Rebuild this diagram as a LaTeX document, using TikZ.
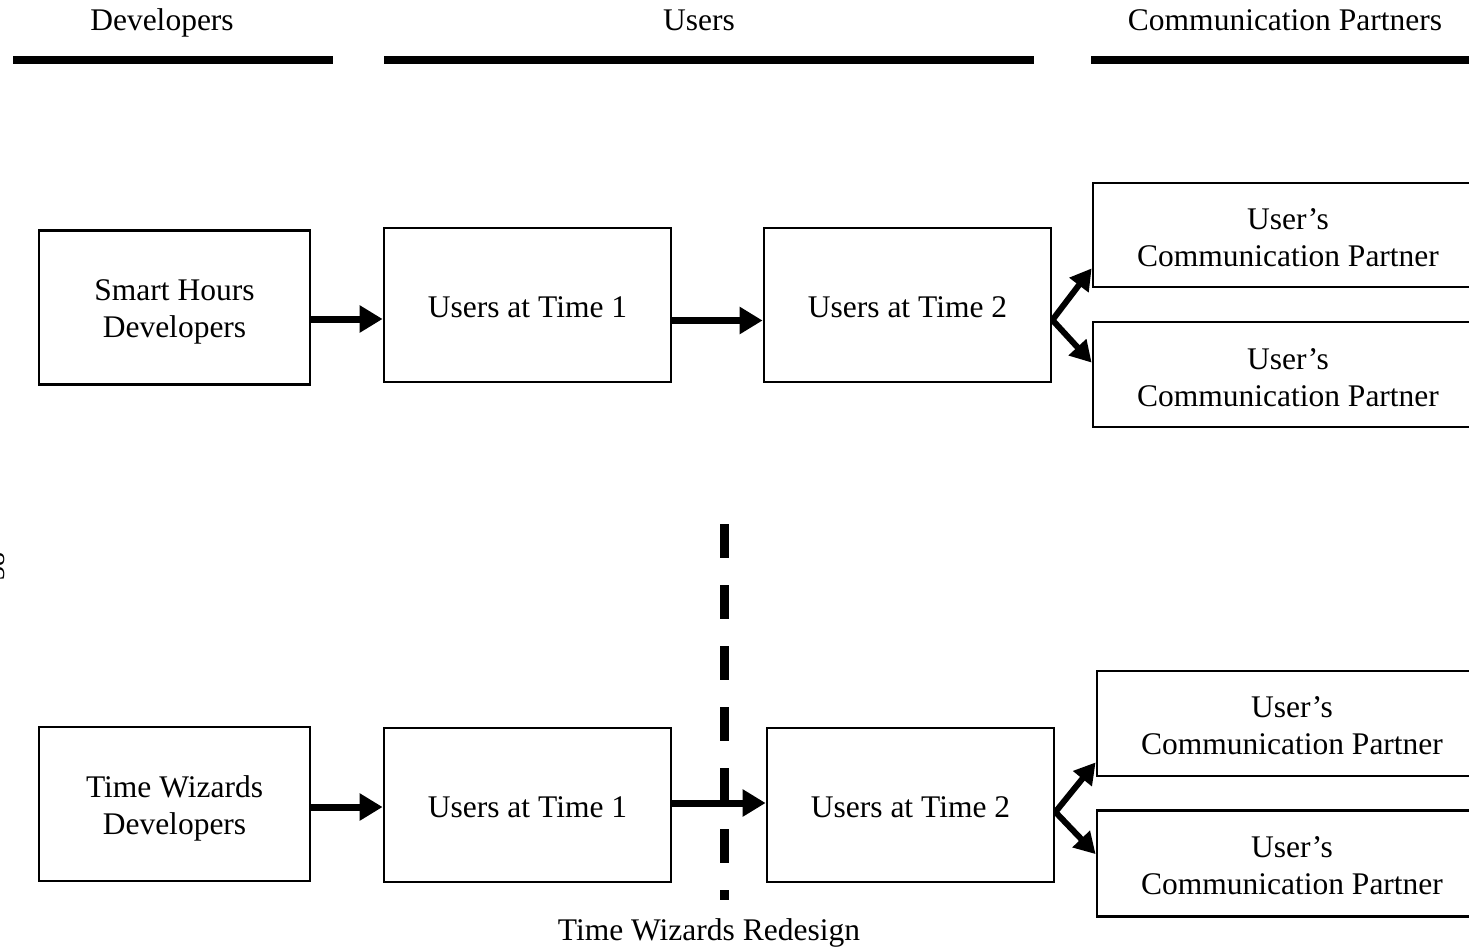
\documentclass[tikz,border=0pt]{standalone}
\usepackage{fontspec}
\setmainfont{Liberation Serif}
\usetikzlibrary{arrows.meta}
\begin{document}
\begin{tikzpicture}[x=1pt,y=-1pt,
  every node/.style={font=\fontsize{31.5}{37}\selectfont},
  box/.style={draw,line width=2.8pt,rectangle,inner sep=0pt},
  boxtext/.style={align=center,inner sep=0pt},
  devbox/.style={box,minimum width=271pt,minimum height=154pt},
  userbox/.style={box,minimum width=287pt,minimum height=154pt},
  cpbox/.style={box,minimum width=390pt,minimum height=104pt},
  hline/.style={line width=8pt},
  arr/.style={line width=7pt,-{Triangle[length=23pt,width=26pt]}},
  brarr/.style={line width=6pt,-{Triangle[length=21pt,width=23pt]}},
  dashline/.style={line width=9pt,dash pattern=on 34pt off 27pt}
]
\useasboundingbox (0,0) rectangle (1469,951);

% headers
\node[anchor=base] (hdev) at (162,30) {Developers};
\node[anchor=base] (husr) at (699,30) {Users};
\node[anchor=base] (hcp) at (1285,30) {Communication Partners};
\draw[hline] (13,60) -- (333,60);
\draw[hline] (384,60) -- (1034,60);
\draw[hline] (1091,60) -- (1475,60);

% page number (cut at the edge)
\node[rotate=90,inner sep=0pt,font=\fontsize{28}{30}\selectfont] (pg) at (-4.5,566) {38};

% row 1
\node[devbox] (sh) at (174.5,307.5) {};
\node[boxtext] (shT) at ([yshift=-4.5pt]sh.center) {Smart Hours\\Developers};
\node[userbox] (u1a) at (527.5,305) {};
\node[boxtext] (u1aT) at ([yshift=-2pt]u1a.center) {Users at Time 1};
\node[userbox] (u2a) at (907.5,305) {};
\node[boxtext] (u2aT) at ([yshift=-2pt]u2a.center) {Users at Time 2};
\node[cpbox] (cp1a) at (1288,235) {};
\node[boxtext] (cp1aT) at ([yshift=-3pt]cp1a.center) {User’s\\Communication Partner};
\node[cpbox,minimum height=105pt] (cp2a) at (1288,374.5) {};
\node[boxtext] (cp2aT) at ([yshift=-3pt]cp2a.center) {User’s\\Communication Partner};

\draw[arr] ([yshift=-11.5pt]sh.east) -- ([yshift=-14pt]u1a.west);
\draw[arr] ([yshift=-15.5pt]u1a.east) -- ([yshift=-15.5pt]u2a.west);
\draw[brarr] ([yshift=-15pt]u2a.east) -- ([yshift=20pt]cp1a.south west);
\draw[brarr] ([yshift=-15pt]u2a.east) -- ([yshift=-42pt]cp2a.north west);

% row 2
\node[devbox] (tw) at (174.5,804) {};
\node[boxtext] (twT) at ([yshift=-4.5pt]tw.center) {Time Wizards\\Developers};
\node[userbox] (u1b) at (527.5,805) {};
\node[boxtext] (u1bT) at ([yshift=-2pt]u1b.center) {Users at Time 1};
\node[userbox] (u2b) at (910.5,805) {};
\node[boxtext] (u2bT) at ([yshift=-2pt]u2b.center) {Users at Time 2};
\node[cpbox,minimum height=105pt] (cp1b) at (1292,723.5) {};
\node[boxtext] (cp1bT) at ([yshift=-2pt]cp1b.center) {User’s\\Communication Partner};
\node[cpbox,minimum height=106pt] (cp2b) at (1292,863.5) {};
\node[boxtext] (cp2bT) at ([yshift=-2pt]cp2b.center) {User’s\\Communication Partner};

\draw[arr] ([yshift=-3pt]tw.east) -- ([yshift=-2pt]u1b.west);
\draw[arr] ([yshift=2pt]u1b.east) -- ([yshift=2pt]u2b.west);
\draw[brarr] ([yshift=-7pt]u2b.east) -- ([yshift=15pt]cp1b.south west);
\draw[brarr] ([yshift=-7pt]u2b.east) -- ([yshift=-45pt]cp2b.north west);

% redesign divider
\coordinate (dtop) at (724.5,524);
\coordinate (dbot) at (724.5,900);
\draw[dashline] (dtop) -- (dbot);
\node[anchor=base] (lbl) at (709,940) {Time Wizards Redesign};
\end{tikzpicture}
\end{document}
